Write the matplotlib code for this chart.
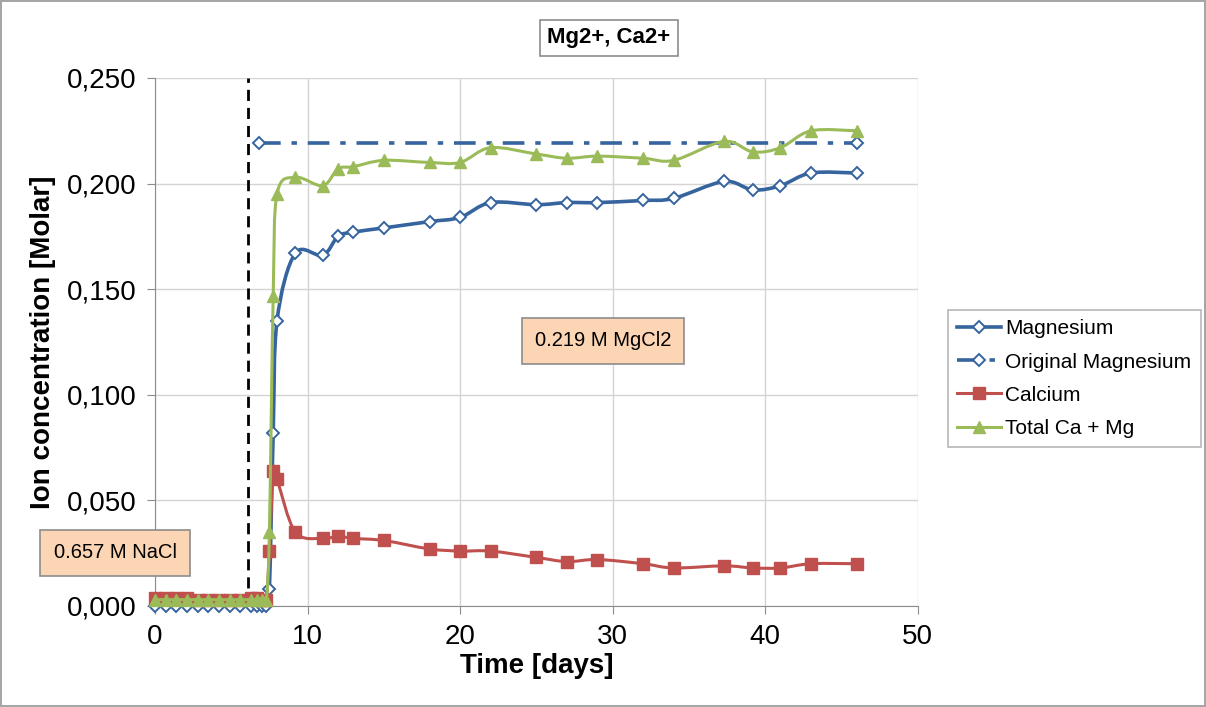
import matplotlib
matplotlib.use('Agg')
import matplotlib.pyplot as plt
from matplotlib.path import Path
from matplotlib.patches import PathPatch
from matplotlib.lines import Line2D
from matplotlib.ticker import FuncFormatter, MultipleLocator

plt.rcParams['font.family'] = ['Liberation Sans', 'DejaVu Sans']

# data (days, molar)
days = [0, 0.7, 1.4, 2.1, 2.8, 3.5, 4.2, 4.9, 5.6, 6.3, 6.7, 7.0, 7.3,
        7.5, 7.75, 8.0, 9.2, 11, 12, 13, 15, 18, 20, 22, 25, 27, 29, 32, 34,
        37.3, 39.2, 41, 43, 46]
magnesium = [0, 0, 0, 0, 0, 0, 0, 0, 0, 0, 0, 0, 0,
             0.008, 0.082, 0.135, 0.167, 0.166, 0.175, 0.177, 0.179, 0.182,
             0.184, 0.191, 0.190, 0.191, 0.191, 0.192, 0.193,
             0.201, 0.197, 0.199, 0.205, 0.205]
calcium = [0.004, 0.004, 0.004, 0.004, 0.003, 0.003, 0.003, 0.003, 0.003,
           0.004, 0.004, 0.003, 0.003,
           0.026, 0.064, 0.060, 0.035, 0.032, 0.033, 0.032, 0.031, 0.027,
           0.026, 0.026, 0.023, 0.021, 0.022, 0.020, 0.018,
           0.019, 0.018, 0.018, 0.020, 0.020]
total = [0.003, 0.003, 0.003, 0.003, 0.003, 0.003, 0.003, 0.003, 0.003,
         0.003, 0.003, 0.003, 0.003,
         0.035, 0.147, 0.195, 0.203, 0.199, 0.207, 0.208, 0.211, 0.210,
         0.210, 0.217, 0.214, 0.212, 0.213, 0.212, 0.211,
         0.220, 0.215, 0.217, 0.225, 0.225]
orig_days = [6.8, 46]
orig_mg = [0.219, 0.219]
switch_day = 6.1

BLUE = '#36649f'
RED = '#c0504d'
GREEN = '#9bbb59'
DASHDOT = (0, (6, 3, 1.5, 3))


def smooth_path(xs, ys):
    # bezier curve through points, like excel "smoothed line"
    pts = list(zip(xs, ys))
    verts = [pts[0]]
    codes = [Path.MOVETO]
    for i in range(len(pts) - 1):
        p0 = pts[i - 1] if i > 0 else pts[i]
        p1 = pts[i]
        p2 = pts[i + 1]
        p3 = pts[i + 2] if i + 2 < len(pts) else pts[i + 1]
        c1 = (p1[0] + (p2[0] - p0[0]) / 6, p1[1] + (p2[1] - p0[1]) / 6)
        c2 = (p2[0] - (p3[0] - p1[0]) / 6, p2[1] - (p3[1] - p1[1]) / 6)
        verts += [c1, c2, p2]
        codes += [Path.CURVE4] * 3
    return Path(verts, codes)


fig = plt.figure(figsize=(12.06, 7.07), dpi=100)
fig.patch.set_edgecolor('#a6a6a6')
fig.patch.set_linewidth(1.5)
ax = fig.add_axes([0.1285, 0.1429, 0.6325, 0.7468])

ax.axvline(switch_day, color='k', ls=(0, (4, 2.5)), lw=2, zorder=2)

ax.plot(orig_days, orig_mg, color=BLUE, ls=DASHDOT, lw=2.6,
        marker='D', ms=6.5, mfc='white', mec=BLUE, mew=1.4, zorder=3, clip_on=False)

ax.add_patch(PathPatch(smooth_path(days, magnesium), fill=False, ec=BLUE, lw=2.6, zorder=4))
ax.plot(days, magnesium, ls='none', marker='D', ms=6.5, mfc='white', mec=BLUE,
        mew=1.4, zorder=4, clip_on=False)

ax.add_patch(PathPatch(smooth_path(days, calcium), fill=False, ec=RED, lw=2.2, zorder=5))
ax.plot(days, calcium, ls='none', marker='s', ms=8, color=RED, zorder=5, clip_on=False)

ax.add_patch(PathPatch(smooth_path(days, total), fill=False, ec=GREEN, lw=2.2, zorder=6))
ax.plot(days, total, ls='none', marker='^', ms=9, color=GREEN, zorder=6, clip_on=False)

ax.set_xlim(0, 50)
ax.set_ylim(0, 0.25)
ax.xaxis.set_major_locator(MultipleLocator(10))
ax.yaxis.set_major_locator(MultipleLocator(0.05))
ax.yaxis.set_major_formatter(FuncFormatter(lambda v, p: ('%.3f' % v).replace('.', ',')))
ax.grid(True, color='#d4d4d4', lw=1)
ax.set_axisbelow(True)
for s in ['top', 'right']:
    ax.spines[s].set_visible(False)
for s in ['left', 'bottom']:
    ax.spines[s].set_color('#8c8c8c')
ax.tick_params(direction='out', length=6, color='#8c8c8c', labelsize=20, pad=7)
ax.set_xlabel('Time [days]', fontsize=20, fontweight='bold', labelpad=2)
ax.set_ylabel('Ion concentration [Molar]', fontsize=20, fontweight='bold', labelpad=8)

box = dict(boxstyle='square,pad=0.65', fc='#fcd5b5', ec='#8c8c8c', lw=1.2)
fig.text(115 / 1206, 1 - 553 / 707, '0.657 M NaCl', fontsize=14.5, ha='center', va='center', bbox=box)
fig.text(603 / 1206, 1 - 341 / 707, '0.219 M MgCl2', fontsize=14.5, ha='center', va='center', bbox=box)
fig.text(609 / 1206, 1 - 38 / 707, 'Mg2+, Ca2+', fontsize=16, fontweight='bold', ha='center',
         va='center', bbox=dict(boxstyle='square,pad=0.35', fc='white', ec='#8c8c8c', lw=1.2))

handles = [
    Line2D([], [], color=BLUE, lw=2.6, marker='D', ms=6.5, mfc='white', mec=BLUE, mew=1.4),
    Line2D([], [], color=BLUE, lw=2.6, ls=DASHDOT, marker='D', ms=6.5, mfc='white', mec=BLUE, mew=1.4),
    Line2D([], [], color=RED, lw=2.2, marker='s', ms=8),
    Line2D([], [], color=GREEN, lw=2.2, marker='^', ms=9),
]
labels = ['Magnesium', 'Original Magnesium', 'Calcium', 'Total Ca + Mg']
leg = fig.legend(handles, labels, loc='upper left', bbox_to_anchor=(0.786, 0.5615),
                 fontsize=15, frameon=True, fancybox=False, edgecolor='#a6a6a6',
                 handlelength=2.1, handletextpad=0.2, labelspacing=0.68, borderpad=0.45,
                 borderaxespad=0)
leg.get_frame().set_linewidth(1.2)

fig.savefig('out.png', dpi=100)
